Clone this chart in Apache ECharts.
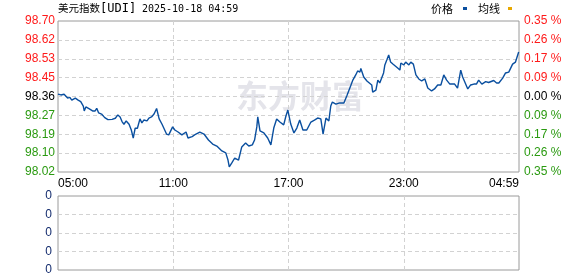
<!DOCTYPE html>
<html>
<head>
<meta charset="utf-8">
<script src="https://cdn.jsdelivr.net/npm/echarts@6/dist/echarts.min.js"></script>
<style>
html,body{margin:0;padding:0;background:#fff;}
#main{width:578px;height:276px;}
</style>
</head>
<body>
<div id="main"></div>
<script>
// minutes after 05:00 (session runs 05:00 -> 04:59 next day)
const minutes = [0,9,15,19,30,37,43,54,63,71,79,82,87,98,108,116,121,127,136,146,156,169,179,187,194,200,206,213,222,229,235,241,248,256,262,268,278,284,292,300,308,316,325,331,339,346,358,365,375,387,400,406,412,419,431,443,456,470,483,496,512,524,531,535,543,552,564,574,586,596,607,614,621,624,631,643,655,665,674,683,693,705,712,718,727,737,746,755,765,777,790,801,811,821,828,837,846,852,857,868,880,893,902,914,921,930,936,943,946,955,965,971,980,983,993,999,1005,1017,1021,1027,1033,1039,1046,1052,1061,1068,1071,1080,1086,1096,1102,1110,1118,1127,1136,1146,1155,1161,1167,1176,1186,1196,1205,1214,1224,1230,1239,1248,1258,1264,1270,1280,1289,1299,1307,1314,1324,1336,1345,1361,1370,1377,1389,1398,1408,1414,1420,1429,1439];
const prices = [98.371,98.367,98.359,98.370,98.353,98.356,98.344,98.353,98.344,98.337,98.317,98.295,98.313,98.304,98.295,98.295,98.307,98.286,98.281,98.265,98.256,98.257,98.262,98.277,98.268,98.247,98.235,98.250,98.235,98.209,98.173,98.217,98.217,98.259,98.241,98.254,98.250,98.263,98.268,98.281,98.306,98.259,98.235,98.227,98.191,98.187,98.223,98.209,98.200,98.187,98.200,98.173,98.164,98.179,98.191,98.200,98.191,98.164,98.146,98.137,98.115,98.106,98.074,98.043,98.061,98.083,98.074,98.133,98.151,98.137,98.142,98.164,98.223,98.268,98.205,98.196,98.173,98.142,98.218,98.259,98.245,98.232,98.272,98.299,98.236,98.196,98.218,98.254,98.209,98.209,98.245,98.254,98.263,98.259,98.191,98.263,98.250,98.317,98.335,98.326,98.331,98.331,98.362,98.407,98.434,98.457,98.475,98.470,98.486,98.448,98.430,98.430,98.412,98.380,98.389,98.434,98.421,98.466,98.502,98.524,98.547,98.515,98.506,98.497,98.488,98.479,98.511,98.502,98.515,98.502,98.515,98.506,98.457,98.439,98.430,98.439,98.398,98.389,98.385,98.394,98.412,98.412,98.457,98.434,98.416,98.425,98.416,98.398,98.479,98.448,98.439,98.394,98.412,98.416,98.416,98.434,98.416,98.427,98.423,98.432,98.421,98.421,98.443,98.466,98.470,98.488,98.506,98.515,98.560];
const timeLabels = ['05:00','11:00','17:00','23:00','04:59'];
const priceTicks = ['98.02','98.10','98.19','98.27','98.36','98.45','98.53','98.62','98.70'];
const pctTicks = ['0.35 %','0.26 %','0.17 %','0.09 %','0.00 %','0.09 %','0.17 %','0.26 %','0.35 %'];
const volTicks = ['0','0','0','0','0'];
const priceMin = 98.02, priceMax = 98.70;

const RED = '#ff1a1a', GREEN = '#2a9a10', BLACK = '#000', NAVY = '#142c6e';
const tickColor = (v) => { const i = Math.round(Number(v)); return i > 4 ? RED : (i < 4 ? GREEN : BLACK); };
const dash = { color: '#d2d2d2', type: [4, 3], width: 1 };
const chart = echarts.init(document.getElementById('main'), null, { renderer: 'canvas' });

chart.setOption({
  animation: false,
  backgroundColor: '#fff',
  grid: [
    { left: 58, right: 59, top: 21, height: 151, show: true, borderColor: '#9a9a9a', borderWidth: 1, containLabel: false },
    { left: 58, right: 59, top: 196, height: 74, show: true, borderColor: '#9a9a9a', borderWidth: 1, containLabel: false }
  ],
  xAxis: [
    { type: 'value', gridIndex: 0, min: 0, max: 1440, interval: 360,
      axisLine: { show: false }, axisTick: { show: false },
      axisLabel: { formatter: v => timeLabels[Math.round(v / 360)], color: '#000', fontSize: 12, fontFamily: 'Liberation Sans', margin: 6,
        showMinLabel: true, showMaxLabel: true, alignMinLabel: 'left', alignMaxLabel: 'right' },
      splitLine: { show: true, showMinLine: false, showMaxLine: false, lineStyle: dash } },
    { type: 'value', gridIndex: 1, min: 0, max: 1440, interval: 360,
      axisLine: { show: false }, axisTick: { show: false }, axisLabel: { show: false },
      splitLine: { show: true, showMinLine: false, showMaxLine: false, lineStyle: dash } }
  ],
  yAxis: [
    { type: 'value', gridIndex: 0, min: priceMin, max: priceMax, show: false, splitLine: { show: false } },
    { type: 'value', gridIndex: 0, position: 'left', min: 0, max: 8, interval: 1,
      axisLine: { show: false }, axisTick: { show: false },
      axisLabel: { formatter: v => priceTicks[Math.round(v)], color: tickColor, fontSize: 12, fontFamily: 'Liberation Sans', margin: 3 },
      splitLine: { show: true, showMinLine: false, showMaxLine: false, lineStyle: dash } },
    { type: 'value', gridIndex: 0, position: 'right', min: 0, max: 8, interval: 1,
      axisLine: { show: false }, axisTick: { show: false },
      axisLabel: { formatter: v => pctTicks[Math.round(v)], color: tickColor, fontSize: 12, fontFamily: 'Liberation Sans', margin: 5 },
      splitLine: { show: false } },
    { type: 'value', gridIndex: 1, position: 'left', min: 0, max: 4, interval: 1,
      axisLine: { show: false }, axisTick: { show: false },
      axisLabel: { formatter: v => volTicks[Math.round(v)], color: NAVY, fontSize: 12, fontFamily: 'Liberation Sans', margin: 6 },
      splitLine: { show: true, showMinLine: false, showMaxLine: false, lineStyle: dash } }
  ],
  graphic: [
    { type: 'text', left: 236, top: 80, z: 0, silent: true,
      style: { text: '东方财富', font: 'bold 32px "Noto Sans CJK SC"', fill: '#e4e4ea' } },
    { type: 'text', left: 58, top: 3, style: { text: '美元指数', font: '10.5px "Noto Sans CJK SC"', fill: '#000' } },
    { type: 'text', left: 100, top: 3, style: { text: '[UDI]', font: '12px "DejaVu Sans Mono"', fill: '#000' } },
    { type: 'text', left: 142, top: 4, style: { text: '2025-10-18 04:59', font: '10px "DejaVu Sans Mono"', fill: '#000' } },
    { type: 'text', left: 431, top: 3, style: { text: '价格', font: '11px "Noto Sans CJK SC"', fill: '#000' } },
    { type: 'rect', left: 463, top: 7, shape: { width: 4, height: 3 }, style: { fill: '#0a4f9f' } },
    { type: 'text', left: 478, top: 3, style: { text: '均线', font: '11px "Noto Sans CJK SC"', fill: '#000' } },
    { type: 'rect', left: 508, top: 7, shape: { width: 4, height: 3 }, style: { fill: '#e8a800' } }
  ],
  series: [
    { name: '价格', type: 'line', xAxisIndex: 0, yAxisIndex: 0, symbol: 'none', smooth: false,
      lineStyle: { color: '#0a4f9f', width: 1.4 },
      data: minutes.map((m, i) => [m, prices[i]]) }
  ]
});
</script>
</body>
</html>
